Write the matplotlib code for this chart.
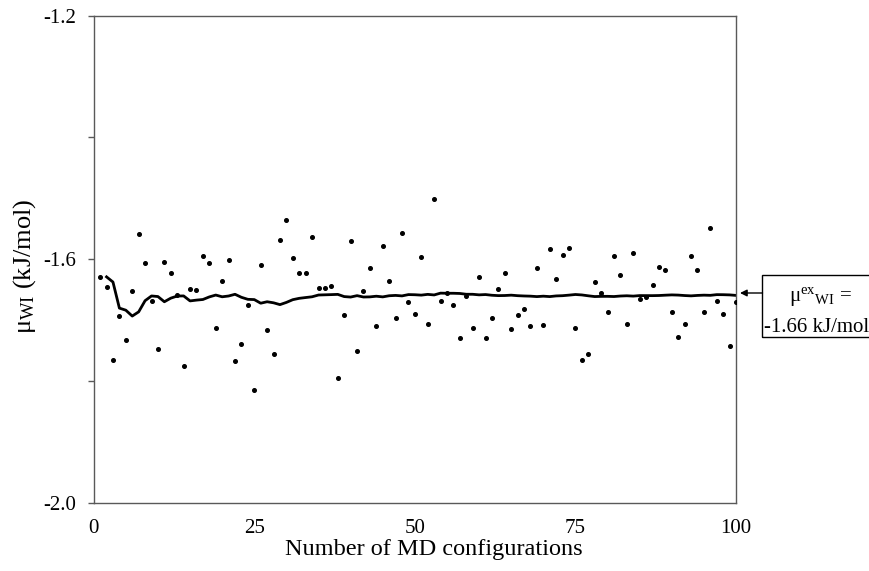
import numpy as np
import matplotlib
matplotlib.use("Agg")
import matplotlib.pyplot as plt
from matplotlib.patches import Rectangle

plt.rcParams['font.family'] = ['Liberation Serif', 'DejaVu Serif']
plt.rcParams['mathtext.fontset'] = 'custom'
plt.rcParams['mathtext.rm'] = 'Liberation Serif'
plt.rcParams['mathtext.it'] = 'Liberation Serif:italic'

config = list(range(1, 101))
mu_values = [
    -1.629, -1.646, -1.766, -1.694, -1.732, -1.652, -1.558, -1.606, -1.669, -1.747,
    -1.605, -1.622, -1.658, -1.775, -1.649, -1.651, -1.594, -1.607, -1.713, -1.636,
    -1.601, -1.767, -1.739, -1.676, -1.815, -1.610, -1.717, -1.755, -1.569, -1.536,
    -1.598, -1.623, -1.622, -1.563, -1.647, -1.647, -1.644, -1.795, -1.692, -1.570,
    -1.751, -1.653, -1.615, -1.709, -1.578, -1.635, -1.697, -1.557, -1.670, -1.690,
    -1.596, -1.707, -1.501, -1.668, -1.655, -1.675, -1.730, -1.660, -1.713, -1.629,
    -1.729, -1.696, -1.649, -1.622, -1.715, -1.691, -1.681, -1.710, -1.614, -1.708,
    -1.583, -1.633, -1.593, -1.582, -1.713, -1.766, -1.756, -1.638, -1.656, -1.686,
    -1.594, -1.626, -1.706, -1.589, -1.665, -1.662, -1.642, -1.612, -1.617, -1.687,
    -1.727, -1.707, -1.594, -1.618, -1.687, -1.549, -1.668, -1.690, -1.743, -1.670,
]
xticks = [0, 25, 50, 75, 100]
ytick_labels = {-1.2: '-1.2', -1.6: '-1.6', -2.0: '-2.0'}
annot_lines = ['μ$^{\\mathrm{ex}}$$_{\\mathrm{WI}}$ =', '-1.66 kJ/mol']

x = np.array(config)
y = np.array(mu_values)
# running average of the configurations sampled so far
run_x = x[1:]
run_y = np.cumsum(y)[:-1] / np.arange(1, len(y))

fig = plt.figure(figsize=(8.7, 5.71), dpi=100)
ax = fig.add_axes([0.1077, 0.1196, 0.846 - 0.1077, 0.9725 - 0.1196])

ax.plot(run_x, run_y, color='black', lw=2.0, zorder=2)
ax.plot(x, y, linestyle='none', marker='o', ms=2.6, color='black', zorder=3)

ax.set_xlim(0, 100)
ax.set_ylim(-2.0, -1.2)
ax.set_xticks(xticks)
ax.set_xticklabels([str(t) for t in xticks])
yt = [-2.0, -1.8, -1.6, -1.4, -1.2]
ax.set_yticks(yt)
ax.set_yticklabels([ytick_labels.get(round(v, 1), '') for v in yt])
ax.tick_params(axis='x', length=0, pad=12, labelsize=15)
ax.tick_params(axis='y', length=4, width=1, color='#595959', direction='out', pad=9, labelsize=15)
for s in ax.spines.values():
    s.set_color('#595959')
    s.set_linewidth(1.0)

ax.set_xlabel('Number of MD configurations', fontsize=17.5, va='center')
ax.xaxis.set_label_coords(0.53, -0.097)
ax.set_ylabel('μ$_{\\mathrm{WI}}$ (kJ/mol)', fontsize=19, va='center')
ax.yaxis.set_label_coords(-0.107, 0.486)

# annotation box
bx0, by0 = 762.5 / 870, 1 - 337 / 571
bw, bh = 130 / 870, 62 / 571
fig.patches.append(Rectangle((bx0, by0), bw, bh, transform=fig.transFigure,
                             fill=False, edgecolor='black', lw=1.0))
fig.text(820 / 870, 1 - 301 / 571, annot_lines[0], fontsize=15, ha='center', va='baseline')
fig.text(817 / 870, 1 - 332 / 571, annot_lines[1], fontsize=15, ha='center', va='baseline')
ax.annotate('', xy=(740 / 870, 1 - 293 / 571), xycoords='figure fraction',
            xytext=(762.5 / 870, 1 - 293 / 571), textcoords='figure fraction',
            arrowprops=dict(arrowstyle='-|>', color='black', lw=1.0, mutation_scale=10,
                            shrinkA=0, shrinkB=0))

fig.savefig('out.png', dpi=100)
